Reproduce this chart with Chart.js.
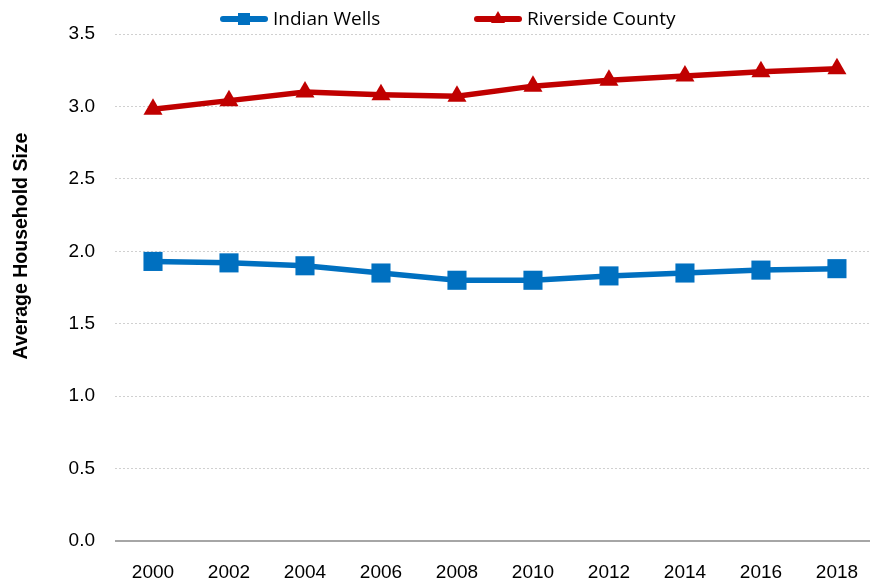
<!DOCTYPE html>
<html>
<head>
<meta charset="utf-8">
<script src="https://cdn.jsdelivr.net/npm/chart.js@4.4.1/dist/chart.umd.min.js"></script>
<style>
  html, body { margin: 0; padding: 0; background: #ffffff; }
  #wrap { width: 870px; height: 582px; position: relative; }
</style>
</head>
<body>
<div id="wrap"><canvas id="chart"></canvas></div>
<script>
// Données
const years = [2000, 2002, 2004, 2006, 2008, 2010, 2012, 2014, 2016, 2018];
const indianWells = [1.93, 1.92, 1.90, 1.85, 1.80, 1.80, 1.83, 1.85, 1.87, 1.88];
const riversideCounty = [2.98, 3.04, 3.10, 3.08, 3.07, 3.14, 3.18, 3.21, 3.24, 3.26];
const seriesNames = ['Indian Wells', 'Riverside County'];
const yTicks = [0, 0.5, 1.0, 1.5, 2.0, 2.5, 3.0, 3.5];
const yTitle = 'Average Household Size';

const BLUE = '#0070C0';
const RED = '#C00000';
const tickFont = '"Liberation Sans", Arial, sans-serif';

// Légende dessinée à la main : trait + marqueur + texte
const lineLegendPlugin = {
    id: 'lineLegend',
    afterDraw(chart) {
        const { ctx } = chart;
        const items = [
            { x: 220, label: seriesNames[0], color: BLUE, style: 'rect' },
            { x: 474, label: seriesNames[1], color: RED, style: 'triangle' }
        ];
        const y = 19;
        ctx.save();
        items.forEach(item => {
            ctx.beginPath();
            ctx.lineWidth = 6;
            ctx.lineCap = 'round';
            ctx.strokeStyle = item.color;
            ctx.moveTo(item.x + 3, y);
            ctx.lineTo(item.x + 45, y);
            ctx.stroke();

            ctx.fillStyle = item.color;
            const cx = item.x + 24;
            if (item.style === 'rect') {
                ctx.fillRect(cx - 6, y - 6, 12, 12);
            } else {
                ctx.beginPath();
                ctx.moveTo(cx, y - 8);
                ctx.lineTo(cx + 7, y + 4);
                ctx.lineTo(cx - 7, y + 4);
                ctx.closePath();
                ctx.fill();
            }

            ctx.fillStyle = '#000000';
            ctx.font = '19px "Open Sans", "Noto Sans", sans-serif';
            ctx.textBaseline = 'middle';
            ctx.textAlign = 'left';
            ctx.fillText(item.label, item.x + 53, y + 1);
        });
        ctx.restore();
    }
};

// Ligne zéro pleine + titre de l'axe Y (placé comme dans Excel)
const axisExtrasPlugin = {
    id: 'axisExtras',
    beforeDatasetsDraw(chart) {
        const { ctx, chartArea, scales } = chart;
        const y0 = scales.y.getPixelForValue(0);
        ctx.save();
        ctx.beginPath();
        ctx.strokeStyle = '#a6a6a6';
        ctx.lineWidth = 2;
        ctx.setLineDash([]);
        ctx.moveTo(chartArea.left, y0);
        ctx.lineTo(chartArea.right, y0);
        ctx.stroke();
        ctx.restore();
    },
    afterDraw(chart) {
        const { ctx } = chart;
        ctx.save();
        ctx.translate(22, 246);
        ctx.rotate(-Math.PI / 2);
        ctx.fillStyle = '#000000';
        ctx.font = 'bold 19.5px "Liberation Sans", Arial, sans-serif';
        ctx.textAlign = 'center';
        ctx.textBaseline = 'middle';
        ctx.fillText(yTitle, 0, 0);
        ctx.restore();
    }
};

new Chart(document.getElementById('chart'), {
    type: 'line',
    data: {
        datasets: [
            {
                label: seriesNames[0],
                data: years.map((yr, i) => ({ x: yr, y: indianWells[i] })),
                borderColor: BLUE,
                backgroundColor: BLUE,
                borderWidth: 5.5,
                pointStyle: 'rect',
                pointRadius: 13.5,
                pointHoverRadius: 13.5,
                pointBorderWidth: 0,
                tension: 0
            },
            {
                label: seriesNames[1],
                data: years.map((yr, i) => ({ x: yr, y: riversideCounty[i] })),
                borderColor: RED,
                backgroundColor: RED,
                borderWidth: 5.5,
                pointStyle: 'triangle',
                pointRadius: 11,
                pointHoverRadius: 11,
                pointBorderWidth: 0,
                tension: 0
            }
        ]
    },
    options: {
        responsive: true,
        maintainAspectRatio: false,
        animation: false,
        layout: { autoPadding: false, padding: { top: 34, right: 0, left: 0, bottom: 0 } },
        scales: {
            x: {
                type: 'linear',
                min: 1999,
                max: 2018.87,
                afterBuildTicks(scale) {
                    scale.ticks = years.map(v => ({ value: v }));
                },
                afterFit(scale) {
                    scale.height = 41;
                    scale.paddingRight = 0;
                    scale.paddingLeft = 0;
                },
                grid: { display: false },
                border: { display: false },
                ticks: {
                    color: '#000000',
                    padding: 12,
                    font: { family: tickFont, size: 19 },
                    callback: v => String(v)
                }
            },
            y: {
                min: 0,
                max: 3.5,
                afterBuildTicks(scale) {
                    scale.ticks = yTicks.map(v => ({ value: v }));
                },
                afterFit(scale) { scale.width = 115; },
                border: { display: false, dash: [2, 2] },
                grid: {
                    color: '#d0d0d0',
                    lineWidth: 1,
                    drawTicks: false
                },
                ticks: {
                    color: '#000000',
                    padding: 20,
                    font: { family: tickFont, size: 19 },
                    callback: v => v.toFixed(1)
                },
                title: { display: false }
            }
        },
        plugins: {
            legend: { display: false },
            tooltip: { enabled: false }
        }
    },
    plugins: [lineLegendPlugin, axisExtrasPlugin]
});
</script>
</body>
</html>
